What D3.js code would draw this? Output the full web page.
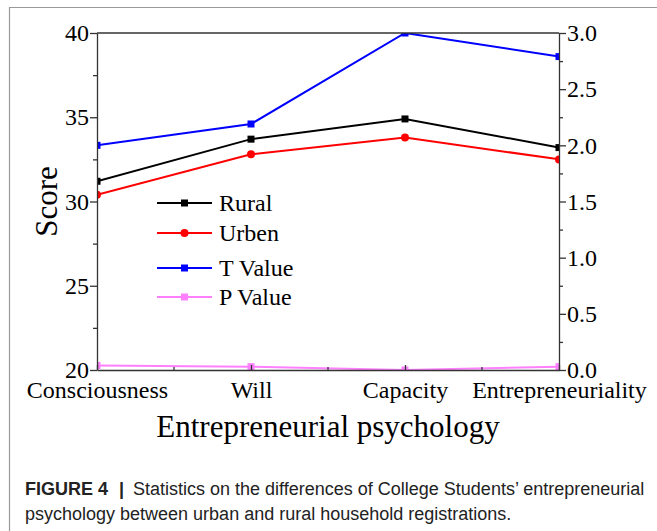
<!DOCTYPE html>
<html>
<head>
<meta charset="utf-8">
<script src="https://cdn.jsdelivr.net/npm/d3@7"></script>
<style>
  body { margin: 0; background: #fff; }
  svg { display: block; }
</style>
</head>
<body>
<div id="chart"></div>
<script>
// data
const categories = ["Consciousness", "Will", "Capacity", "Entrepreneuriality"];
const rural = [31.2, 33.7, 34.9, 33.2];
const urban = [30.4, 32.8, 33.8, 32.5];
const tValue = [2.00, 2.19, 3.00, 2.79];
const pValue = [0.04, 0.03, 0.00, 0.03];
const leftTicks = [20, 25, 30, 35, 40];
const leftMinor = [22.5, 27.5, 32.5, 37.5];
const rightTicks = [0, 0.5, 1.0, 1.5, 2.0, 2.5, 3.0];
const rightMinor = [0.25, 0.75, 1.25, 1.75, 2.25, 2.75];
const seriesNames = ["Rural", "Urben", "T Value", "P Value"];
const seriesColors = ["#000000", "#ff0000", "#0000ff", "#ff80ff"];
const seriesShapes = ["square", "circle", "square", "square"];

const width = 657, height = 531;
const plot = { left: 97, right: 559, top: 33, bottom: 370 };
const serif = "'Liberation Serif', 'Times New Roman', serif";
const sans = "'Liberation Sans', Arial, sans-serif";

const svg = d3.select("#chart").append("svg")
    .attr("width", width).attr("height", height);

svg.append("rect").attr("width", width).attr("height", height).attr("fill", "#fff");

// page frame (left and top rule)
svg.append("path")
    .attr("d", `M9.5,${height} V7.5 H${width}`)
    .attr("fill", "none").attr("stroke", "#999").attr("stroke-width", 1.2);

// scales
const x = d3.scalePoint().domain(categories).range([plot.left, plot.right]);
const yL = d3.scaleLinear().domain([20, 40]).range([plot.bottom, plot.top]);
const yR = d3.scaleLinear().domain([0, 3]).range([plot.bottom, plot.top]);

const series = [
    { name: seriesNames[0], values: rural, y: yL },
    { name: seriesNames[1], values: urban, y: yL },
    { name: seriesNames[2], values: tValue, y: yR },
    { name: seriesNames[3], values: pValue, y: yR }
];
series.forEach((s, i) => { s.color = seriesColors[i]; s.shape = seriesShapes[i]; });

// clip the data to the plot box
svg.append("clipPath").attr("id", "plot-clip")
    .append("rect")
    .attr("x", plot.left).attr("y", plot.top)
    .attr("width", plot.right - plot.left).attr("height", plot.bottom - plot.top);

const g = svg.append("g").attr("clip-path", "url(#plot-clip)");

function drawMarker(sel, shape, color) {
    if (shape === "circle") {
        sel.append("circle").attr("r", 4).attr("fill", color);
    } else {
        sel.append("rect").attr("x", -3.5).attr("y", -3.5)
            .attr("width", 7).attr("height", 7).attr("fill", color);
    }
}

// draw from back to front so the black/red lines sit on top
series.slice().reverse().forEach(s => {
    const line = d3.line()
        .x((d, i) => x(categories[i]))
        .y(d => s.y(d));
    g.append("path")
        .datum(s.values)
        .attr("d", line)
        .attr("fill", "none")
        .attr("stroke", s.color)
        .attr("stroke-width", 2);

    g.selectAll(null)
        .data(s.values)
        .enter()
        .append("g")
        .attr("transform", (d, i) => `translate(${x(categories[i])},${s.y(d)})`)
        .each(function() { drawMarker(d3.select(this), s.shape, s.color); });
});

// axes
function styleAxis(a) {
    a.selectAll("path, line").attr("stroke", "#333").attr("stroke-width", 1.3);
    a.selectAll("text").attr("font-family", serif).attr("font-size", 24).attr("fill", "#000");
}

svg.append("g").attr("transform", `translate(${plot.left},0)`)
    .call(d3.axisLeft(yL).tickValues(leftTicks).tickSize(7).tickSizeOuter(0).tickPadding(1))
    .call(styleAxis);
svg.append("g").attr("transform", `translate(${plot.left},0)`)
    .call(d3.axisLeft(yL).tickValues(leftMinor).tickSize(4).tickFormat(""))
    .call(a => a.select(".domain").remove())
    .call(styleAxis);

svg.append("g").attr("transform", `translate(${plot.right},0)`)
    .call(d3.axisRight(yR).tickValues(rightTicks).tickSize(7).tickSizeOuter(0).tickPadding(1)
        .tickFormat(d3.format(".1f")))
    .call(styleAxis);
svg.append("g").attr("transform", `translate(${plot.right},0)`)
    .call(d3.axisRight(yR).tickValues(rightMinor).tickSize(4).tickFormat(""))
    .call(a => a.select(".domain").remove())
    .call(styleAxis);

svg.append("g").attr("transform", `translate(0,${plot.bottom})`)
    .call(d3.axisBottom(x).tickSizeInner(-5).tickSizeOuter(0).tickPadding(11))
    .call(styleAxis);

// minor ticks halfway between categories
const mids = categories.slice(1).map((c, i) => (x(c) + x(categories[i])) / 2);
svg.append("g").selectAll("line")
    .data(mids).enter().append("line")
    .attr("x1", d => d).attr("x2", d => d)
    .attr("y1", plot.bottom).attr("y2", plot.bottom - 3)
    .attr("stroke", "#333").attr("stroke-width", 1.3);

// top frame line
svg.append("line")
    .attr("x1", plot.left).attr("x2", plot.right)
    .attr("y1", plot.top).attr("y2", plot.top)
    .attr("stroke", "#333").attr("stroke-width", 1.3);

// axis titles
svg.append("text")
    .attr("transform", `translate(57,${(plot.top + plot.bottom) / 2}) rotate(-90)`)
    .attr("text-anchor", "middle")
    .attr("font-family", serif).attr("font-size", 31)
    .text("Score");

svg.append("text")
    .attr("x", (plot.left + plot.right) / 2).attr("y", 437)
    .attr("text-anchor", "middle")
    .attr("font-family", serif).attr("font-size", 31)
    .text("Entrepreneurial psychology");

// legend
const legendY = [203, 233, 268, 297];
const leg = svg.append("g").selectAll("g")
    .data(series).enter().append("g")
    .attr("transform", (d, i) => `translate(157,${legendY[i]})`);

leg.append("line")
    .attr("x1", 0).attr("x2", 55)
    .attr("stroke", d => d.color).attr("stroke-width", 2);
leg.append("g").attr("transform", "translate(27.5,0)")
    .each(function(d) { drawMarker(d3.select(this), d.shape, d.color); });
leg.append("text")
    .attr("x", 62).attr("y", 8)
    .attr("font-family", serif).attr("font-size", 24)
    .text(d => d.name);

// caption
const cap = svg.append("text")
    .attr("font-family", sans).attr("font-size", 18).attr("fill", "#222");
cap.append("tspan").attr("x", 25).attr("y", 495).attr("font-weight", "bold").text("FIGURE 4");
cap.append("tspan").attr("x", 119).attr("y", 495).attr("font-weight", "bold").text("|");
cap.append("tspan").attr("x", 133).attr("y", 495)
    .text("Statistics on the differences of College Students\u2019 entrepreneurial");
cap.append("tspan").attr("x", 25).attr("y", 520)
    .text("psychology between urban and rural household registrations.");
</script>
</body>
</html>
